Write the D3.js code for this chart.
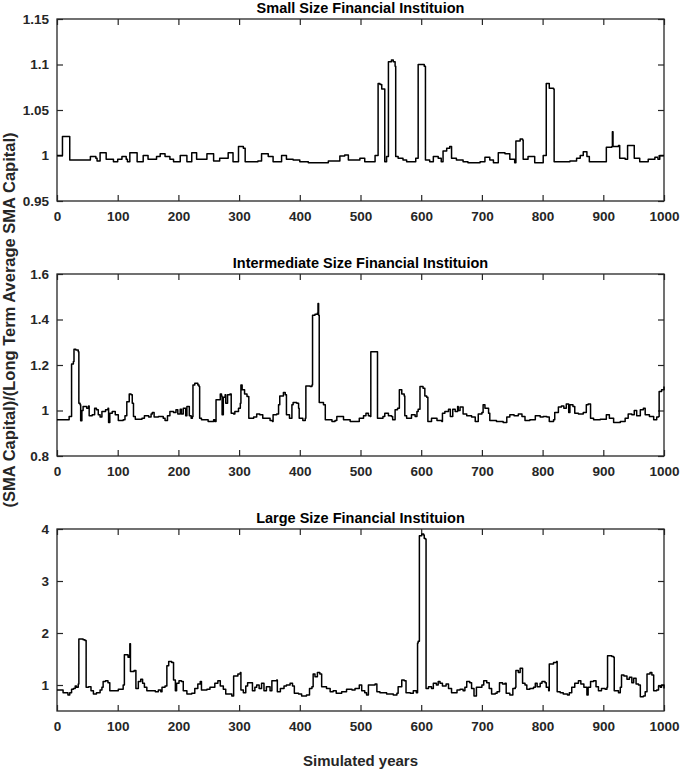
<!DOCTYPE html>
<html>
<head>
<meta charset="utf-8">
<script src="https://cdn.jsdelivr.net/npm/d3@7"></script>
<style>
  html, body { margin: 0; padding: 0; background: #fff; }
  svg { display: block; font-family: "Liberation Sans", Arial, sans-serif; }
</style>
</head>
<body>
<div id="chart"></div>
<script>
// values as [simulated year, ratio]
const smallSeries = [[0,1.0],[8,1.0],[9,1.021],[20,1.021],[21,0.995],[50,0.995],[55,0.999],[64,0.997],[66,0.994],[71,1.003],[79,1.003],[81,0.996],[93,0.993],[100,0.996],[107,0.999],[114,0.996],[116,0.993],[119,0.993],[120,1.003],[131,1.003],[132,0.993],[142,1.0],[150,0.996],[164,0.999],[170,1.002],[178,0.999],[186,0.996],[192,0.993],[202,0.993],[203,1.0],[212,1.0],[214,0.993],[222,1.003],[230,0.996],[247,1.002],[258,0.994],[268,0.997],[282,1.003],[290,0.993],[298,0.993],[299,1.010],[307,1.008],[310,0.993],[331,0.994],[337,1.002],[348,0.999],[356,0.993],[370,1.0],[378,0.996],[389,0.995],[400,0.993],[414,0.992],[433,0.992],[447,0.994],[460,0.994],[466,0.9995],[474,1.0005],[480,0.995],[493,0.995],[499,0.997],[507,0.993],[521,0.993],[524,1.0],[527,1.0],[529,1.079],[532,1.078],[535,1.073],[538,1.073],[540,0.993],[543,0.999],[545,0.999],[546,1.103],[551,1.105],[554,1.103],[557,1.098],[558,0.999],[562,0.997],[570,0.995],[576,0.993],[584,0.993],[591,0.997],[594,0.997],[595,1.1],[600,1.1],[605,1.098],[607,0.995],[614,0.993],[620,0.999],[628,0.997],[633,0.993],[636,1.005],[642,1.008],[647,1.010],[650,0.997],[658,0.995],[669,0.993],[677,0.992],[697,0.993],[705,0.998],[713,0.995],[719,0.992],[727,1.003],[738,1.002],[746,0.996],[754,0.992],[756,1.016],[763,1.018],[767,1.017],[768,0.996],[776,0.999],[784,0.999],[787,0.992],[798,0.992],[801,1.0],[806,1.079],[811,1.074],[818,1.073],[819,0.993],[845,0.994],[856,0.997],[862,1.0],[867,1.004],[873,0.999],[877,0.993],[903,0.993],[905,1.009],[914,1.010],[915,1.026],[916,1.010],[925,1.011],[927,0.997],[936,0.996],[940,1.011],[947,1.011],[951,0.997],[960,0.993],[974,0.996],[985,0.998],[990,0.996],[993,1.0],[1000,1.0]];

const intermediateSeries = [[0,0.959],[19,0.959],[20,0.974],[23,0.974],[24,1.204],[27,1.215],[28,1.269],[31,1.266],[35,1.258],[36,1.032],[38,1.025],[39,0.955],[41,1.0],[43,1.018],[49,1.010],[52,1.020],[53,0.977],[58,0.981],[62,1.010],[65,1.003],[68,0.981],[71,0.971],[74,0.996],[80,1.003],[84,1.010],[85,0.947],[87,0.988],[91,0.996],[96,0.981],[101,0.956],[109,0.959],[112,0.977],[115,1.039],[119,1.073],[122,1.069],[124,1.032],[126,0.974],[129,0.962],[140,0.966],[144,0.977],[151,0.971],[155,0.985],[157,0.991],[160,0.971],[167,0.974],[175,0.966],[178,0.956],[182,0.977],[186,0.996],[192,0.991],[196,1.003],[199,0.985],[203,1.006],[205,0.985],[208,1.010],[212,0.977],[214,1.018],[218,0.977],[221,0.966],[223,0.974],[224,1.112],[227,1.120],[232,1.112],[234,1.105],[235,0.966],[238,0.959],[249,0.952],[258,0.959],[260,0.952],[262,1.047],[266,1.047],[269,1.073],[271,1.064],[272,0.981],[274,1.058],[277,1.069],[278,1.032],[281,1.069],[285,1.073],[287,0.988],[291,0.985],[293,0.996],[299,1.010],[302,1.032],[303,1.112],[305,1.091],[309,1.073],[313,1.061],[316,0.966],[324,0.971],[329,0.985],[334,0.981],[339,0.966],[351,0.956],[355,0.952],[356,0.981],[362,0.985],[365,1.025],[367,1.064],[373,1.079],[376,1.069],[378,0.981],[383,0.966],[387,1.025],[389,1.035],[395,1.032],[398,1.010],[399,0.966],[405,0.956],[409,0.966],[410,1.108],[417,1.105],[420,1.112],[421,1.419],[425,1.423],[429,1.429],[430,1.470],[431,1.419],[432,1.035],[439,1.025],[442,0.959],[453,0.952],[458,0.956],[461,0.974],[469,0.974],[472,0.959],[483,0.952],[494,0.952],[498,0.966],[505,0.977],[509,0.988],[513,0.977],[516,0.974],[517,1.258],[527,1.258],[528,0.966],[537,0.974],[540,0.988],[546,0.977],[551,0.974],[553,0.959],[557,1.003],[561,1.010],[564,1.091],[568,1.073],[572,1.064],[573,0.977],[576,0.966],[584,0.981],[590,0.974],[593,0.996],[595,1.006],[598,1.105],[603,1.098],[606,1.064],[609,1.058],[611,0.952],[617,0.966],[626,0.956],[634,0.952],[635,0.988],[639,0.996],[645,1.006],[648,0.974],[652,1.006],[656,0.996],[660,1.018],[661,1.0],[664,1.015],[669,0.985],[675,0.977],[683,0.971],[689,0.952],[694,0.985],[700,0.991],[702,1.025],[705,1.010],[711,0.988],[713,0.956],[724,0.952],[735,0.947],[741,0.971],[746,0.981],[753,0.977],[760,0.985],[766,0.974],[771,0.956],[779,0.959],[788,0.977],[796,0.971],[801,0.974],[807,0.971],[811,0.952],[818,0.959],[820,0.991],[826,1.015],[831,1.020],[835,1.010],[839,1.029],[843,0.991],[845,1.025],[850,1.018],[853,0.988],[859,0.985],[867,0.991],[872,1.025],[875,1.029],[879,0.966],[884,0.959],[895,0.962],[905,0.981],[910,0.966],[917,0.947],[928,0.952],[936,0.966],[941,0.985],[947,0.981],[951,1.0],[955,0.977],[961,1.003],[966,1.010],[969,0.981],[976,0.974],[983,0.959],[988,0.971],[991,0.974],[992,1.083],[996,1.091],[1000,1.105]];

const largeSeries = [[0,0.903],[10,0.852],[18,0.806],[21,0.852],[24,0.916],[27,0.935],[30,0.981],[32,0.955],[35,1.019],[36,1.884],[43,1.871],[46,1.858],[47,1.858],[48,0.955],[52,0.968],[56,0.890],[60,0.826],[65,0.852],[71,0.903],[74,0.955],[76,1.065],[80,1.084],[84,1.045],[87,0.890],[95,0.890],[101,0.916],[107,0.916],[109,1.0],[111,1.581],[117,1.535],[119,1.561],[120,1.794],[121,1.258],[127,1.277],[129,1.277],[130,0.935],[134,1.065],[138,1.110],[141,1.032],[144,0.955],[148,0.890],[156,0.890],[162,0.871],[167,0.903],[171,0.871],[173,0.955],[178,0.981],[181,1.368],[184,1.452],[189,1.432],[192,1.097],[195,0.890],[197,1.032],[201,1.084],[205,1.065],[208,0.890],[214,0.826],[222,0.839],[227,0.935],[232,1.019],[236,1.065],[238,0.903],[247,0.916],[252,0.955],[260,1.032],[265,1.084],[269,0.981],[274,0.916],[278,0.826],[288,0.787],[290,0.787],[291,1.174],[298,1.213],[302,1.239],[303,0.903],[307,0.852],[311,0.981],[314,1.045],[321,1.045],[322,0.890],[326,0.955],[329,1.0],[333,0.935],[337,1.032],[341,0.890],[345,0.968],[351,0.890],[353,0.890],[354,1.084],[362,1.097],[363,0.871],[368,0.935],[374,0.981],[378,1.0],[384,1.032],[388,0.981],[391,0.839],[398,0.826],[403,0.787],[411,0.806],[416,0.935],[420,0.968],[422,1.213],[425,1.161],[429,1.239],[433,1.213],[436,0.968],[444,0.935],[450,0.871],[455,0.890],[460,0.839],[469,0.871],[477,0.916],[486,0.903],[491,0.935],[498,1.0],[502,0.890],[507,0.852],[510,0.806],[513,1.0],[524,1.019],[527,0.871],[532,0.852],[543,0.826],[554,0.806],[560,0.839],[562,0.968],[568,1.097],[572,1.084],[575,0.852],[582,0.839],[587,0.890],[592,0.852],[594,1.806],[595,1.839],[597,3.871],[601,3.903],[604,3.884],[605,3.819],[607,3.806],[608,0.935],[612,0.968],[617,0.935],[620,1.032],[625,1.0],[628,1.065],[631,1.032],[635,0.981],[641,1.019],[645,0.935],[650,0.852],[659,0.903],[664,0.916],[669,0.890],[672,0.955],[675,1.065],[680,1.045],[683,0.935],[687,0.787],[691,0.955],[696,0.955],[700,1.0],[703,1.084],[708,1.045],[712,0.935],[716,0.826],[722,0.839],[725,0.871],[729,1.045],[734,1.019],[738,1.032],[740,0.839],[746,0.806],[751,0.935],[755,0.955],[756,1.277],[760,1.239],[763,1.323],[766,1.323],[767,1.032],[771,1.0],[774,0.916],[779,0.935],[785,0.955],[788,1.032],[791,0.968],[796,1.032],[799,1.065],[804,1.045],[806,0.955],[810,0.890],[811,1.406],[818,1.432],[823,1.452],[824,0.871],[829,0.852],[834,0.826],[841,0.806],[844,0.852],[848,0.955],[853,1.032],[859,1.084],[863,1.019],[868,0.955],[873,0.806],[875,0.955],[879,1.065],[884,1.084],[888,0.968],[892,0.890],[897,0.935],[903,0.916],[906,0.955],[907,1.561],[914,1.548],[917,1.535],[918,0.890],[925,0.852],[928,0.955],[930,1.194],[934,1.174],[939,1.110],[943,1.148],[947,1.045],[950,1.129],[954,1.019],[958,1.0],[961,0.774],[966,0.787],[969,0.871],[972,1.213],[977,1.239],[980,1.194],[983,0.890],[988,0.903],[991,0.981],[994,0.955],[996,1.0],[1000,0.935]];

const titles = ["Small Size Financial Instituion", "Intermediate Size Financial Instituion", "Large Size Financial Instituion"];
const yDomains = [[0.95, 1.15], [0.8, 1.6], [0.5, 4]];
const smallTicks = [0.95, 1, 1.05, 1.1, 1.15];
const intermediateTicks = [0.8, 1, 1.2, 1.4, 1.6];
const largeTicks = [1, 2, 3, 4];
const xTicks = [0, 100, 200, 300, 400, 500, 600, 700, 800, 900, 1000];
const xLabel = "Simulated years";
const yLabel = "(SMA Capital)/(Long Term Average SMA Capital)";

const width = 680, height = 769;
const left = 57, right = 664, panelH = 182;
const tops = [19, 274, 529];
const axisColor = "#262626";

const svg = d3.select("#chart").append("svg")
  .attr("width", width)
  .attr("height", height);

const x = d3.scaleLinear().domain([0, 1000]).range([left, right]);

const panels = [
  { series: smallSeries, ticks: smallTicks },
  { series: intermediateSeries, ticks: intermediateTicks },
  { series: largeSeries, ticks: largeTicks },
];

panels.forEach((p, i) => {
  const top = tops[i], bottom = top + panelH;
  const y = d3.scaleLinear().domain(yDomains[i]).range([bottom, top]);
  const g = svg.append("g");
  const tickLen = 6;

  // bottom axis (ticks pointing in), labels below
  const xAxis = g.append("g")
    .attr("transform", `translate(0,${bottom})`)
    .call(d3.axisBottom(x).tickValues(xTicks).tickSize(-tickLen).tickPadding(10).tickFormat(d3.format("d")));
  // top mirror ticks
  const xTop = g.append("g")
    .attr("transform", `translate(0,${top})`)
    .call(d3.axisTop(x).tickValues(xTicks).tickSize(-tickLen).tickFormat(""));
  // left axis
  const yAxis = g.append("g")
    .attr("transform", `translate(${left},0)`)
    .call(d3.axisLeft(y).tickValues(p.ticks).tickSize(-tickLen).tickPadding(8).tickFormat(d => String(+d.toFixed(2))));
  // right mirror ticks
  const yRight = g.append("g")
    .attr("transform", `translate(${right},0)`)
    .call(d3.axisRight(y).tickValues(p.ticks).tickSize(-tickLen).tickFormat(""));

  [xAxis, xTop, yAxis, yRight].forEach(a => {
    a.select(".domain").remove();
    a.selectAll("line").attr("stroke", axisColor).attr("stroke-width", 1.2);
    a.selectAll("text")
      .attr("fill", axisColor)
      .style("font-size", "13.5px")
      .style("font-weight", "bold");
  });

  // box
  g.append("rect")
    .attr("x", left).attr("y", top)
    .attr("width", right - left).attr("height", panelH)
    .attr("fill", "none")
    .attr("stroke", axisColor)
    .attr("stroke-width", 1.3);

  // the series is piecewise flat, so draw it as steps
  const line = d3.line().curve(d3.curveStepAfter).x(d => x(d[0])).y(d => y(d[1]));
  g.append("path")
    .datum(p.series)
    .attr("fill", "none")
    .attr("stroke", "#000")
    .attr("stroke-width", 1.5)
    .attr("stroke-linejoin", "round")
    .attr("d", line);

  g.append("text")
    .attr("x", (left + right) / 2)
    .attr("y", top - 6)
    .attr("text-anchor", "middle")
    .style("font-size", "14.5px")
    .style("font-weight", "bold")
    .attr("fill", "#000")
    .text(titles[i]);
});

svg.append("text")
  .attr("x", (left + right) / 2)
  .attr("y", 766)
  .attr("text-anchor", "middle")
  .style("font-size", "15px")
  .style("font-weight", "bold")
  .attr("fill", axisColor)
  .text(xLabel);

svg.append("text")
  .attr("transform", `translate(15,320) rotate(-90)`)
  .attr("text-anchor", "middle")
  .style("font-size", "16.5px")
  .style("font-weight", "bold")
  .attr("fill", axisColor)
  .text(yLabel);
</script>
</body>
</html>
